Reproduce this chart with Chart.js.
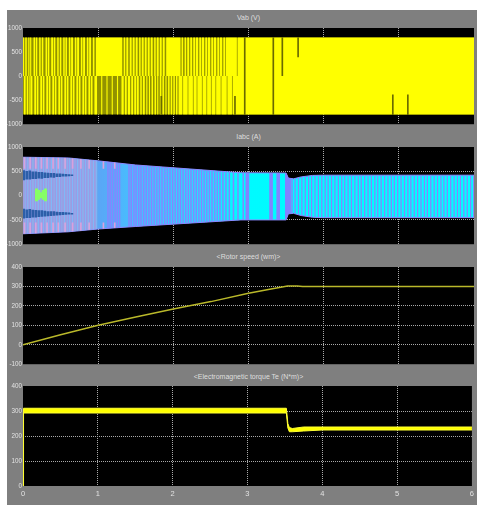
<!DOCTYPE html>
<html>
<head>
<meta charset="utf-8">
<script src="https://cdn.jsdelivr.net/npm/chart.js@4/dist/chart.umd.min.js"></script>
<style>
  html, body { margin: 0; padding: 0; background: #ffffff; }
  body { width: 477px; height: 505px; position: relative; overflow: hidden; }
  #scope { position: absolute; left: 7px; top: 10px; width: 470px; height: 495px; background: #7f7f7f; }
  .cv { position: absolute; left: 7px; }
  .ttl { position: absolute; left: 23px; width: 451px; height: 10px; line-height: 10px; text-align: center;
         color: #dedede; font-size: 7px; white-space: nowrap;
         font-family: 'Liberation Sans', Arial, sans-serif; }
</style>
</head>
<body>
<div id="scope"></div>
<div class="ttl" style="top:13px">Vab (V)</div>
<div class="ttl" style="top:132px">Iabc (A)</div>
<div class="ttl" style="top:252px">&lt;Rotor speed (wm)&gt;</div>
<div class="ttl" style="top:372px">&lt;Electromagnetic torque Te (N*m)&gt;</div>
<canvas class="cv" id="cVab" width="470" height="119" style="top:10px"></canvas>
<canvas class="cv" id="cIabc" width="470" height="120" style="top:129px"></canvas>
<canvas class="cv" id="cSpeed" width="470" height="120" style="top:249px"></canvas>
<canvas class="cv" id="cTorque" width="470" height="137" style="top:368px"></canvas>
<script>
// ---------- time axis ----------
const timeTicks = [0, 1, 2, 3, 4, 5, 6];

// ---------- Vab (V): PWM line voltage ----------
const vabTicks = [-1000, -500, 0, 500, 1000];
const vabLevel = 800;
// intervals (s) where the positive pulses sit at 0 V
const vabUpperZero = [
  [0.015,0.03],[0.05,0.07],[0.085,0.095],[0.11,0.14],[0.16,0.17],[0.19,0.215],[0.235,0.25],[0.27,0.30],
  [0.32,0.33],[0.35,0.375],[0.40,0.41],[0.43,0.455],[0.475,0.49],[0.51,0.535],[0.555,0.565],[0.585,0.61],
  [0.63,0.64],[0.665,0.69],[0.71,0.72],[0.745,0.77],[0.79,0.80],[0.825,0.85],[0.87,0.88],[0.905,0.93],[0.95,0.97],
  [1.32,1.34],[1.36,1.375],[1.40,1.42],[1.445,1.46],[1.485,1.50],[1.525,1.545],[1.565,1.58],[1.605,1.62],
  [1.645,1.66],[1.685,1.70],[1.725,1.745],[1.765,1.78],[1.805,1.82],[1.845,1.86],[1.885,1.905],
  [2.095,2.11],[2.13,2.15],[2.17,2.185],[2.21,2.225],[2.25,2.265],[2.29,2.30],[2.33,2.345],[2.37,2.38],
  [2.41,2.425],[2.45,2.46],[2.49,2.505],[2.53,2.54],[2.57,2.585],[2.61,2.62],[2.65,2.665],[2.69,2.70],
  [2.845,2.855]
];
// intervals (s) where the negative pulses sit at 0 V
const vabLowerZero = [
  [0.0,0.012],[0.035,0.05],[0.07,0.085],[0.10,0.105],[0.125,0.15],[0.175,0.185],[0.205,0.23],[0.255,0.265],
  [0.285,0.31],[0.335,0.345],[0.365,0.39],[0.415,0.425],[0.445,0.47],[0.495,0.505],[0.525,0.55],[0.575,0.585],
  [0.605,0.63],[0.655,0.665],[0.685,0.71],[0.735,0.745],[0.765,0.79],[0.815,0.825],[0.845,0.87],[0.895,0.905],[0.925,0.95],
  [0.985,1.04],[1.055,1.11],[1.125,1.18],[1.195,1.25],[1.265,1.31],
  [1.34,1.355],[1.38,1.395],[1.425,1.44],[1.465,1.48],[1.505,1.515],[1.54,1.56],[1.58,1.595],[1.62,1.64],
  [1.655,1.675],[1.69,1.71],[1.73,1.75],[1.77,1.785],[1.80,1.82],[1.84,1.855],[1.875,1.895],[1.91,1.93],
  [1.95,1.965],[1.985,2.00],[2.02,2.035],[2.055,2.07],
  [2.12,2.13],[2.19,2.20],[2.26,2.27],[2.31,2.32],[2.38,2.39],[2.44,2.45],[2.50,2.51],[2.56,2.57],
  [2.63,2.64],[2.71,2.72],[2.78,2.79]
];
// isolated notches: [time (s), low (V), high (V)]
const vabNotches = [
  [1.84,-800,-420],[2.82,-800,-420],[2.95,-800,800],[3.33,-800,800],[3.45,0,800],[3.66,400,800],
  [4.92,-800,-390],[5.12,-800,-390]
];

// ---------- Iabc (A): three-phase stator currents ----------
const iabcTicks = [-1000, -500, 0, 500, 1000];
const iabcTime  = [0, 0.6, 1.0, 1.5, 2.9, 3.5, 3.53, 3.6, 3.7, 3.85, 4.0, 6.0];
const iabcUpper = [790, 775, 715, 630, 470, 465, 360, 345, 385, 415, 420, 420];
const iabcLower = [-785, -745, -687, -635, -500, -500, -375, -365, -410, -445, -453, -453];
// times (s) of the violet phase crossings
const iabcVioletTimes = [
  0.012,0.046,0.083,0.114,0.152,0.183,0.221,0.256,0.288,0.327,0.358,0.397,0.429,0.466,0.502,0.533,
  0.572,0.604,0.641,0.676,0.708,0.747,0.779,0.817,0.848,0.886,0.918,0.957,
  1.13,1.16,1.19,1.225,1.255,1.285,1.41,1.44,1.475,1.505,1.54,1.57,1.605,1.64,1.675,1.71,1.745,
  1.78,1.815,1.85,1.885,1.92,1.955,1.99,2.025,2.06,2.095,2.13,2.165,2.2,2.235,2.27,2.305,2.34,
  2.375,2.41,2.445,2.48,2.515,2.55,2.585,2.62,2.66,2.70,2.745,2.80,2.86,2.93,
  3.58,3.62,3.665,3.71,3.755,3.80,3.84,3.885,3.93,3.975,4.02,4.06,4.105,4.15,4.195,4.24,4.28,
  4.325,4.37,4.415,4.46,4.50,4.545,4.59,4.635,4.68,4.72,4.765,4.81,4.855,4.90,4.94,4.985,5.03,
  5.075,5.12,5.16,5.205,5.25,5.295,5.34,5.38,5.425,5.47,5.515,5.56,5.60,5.645,5.69,5.735,5.78,
  5.82,5.865,5.91,5.955,5.995
];
// beat boundaries between the wide lobes
const iabcBeatTimes = [2.985, 3.30, 3.395, 3.51, 3.545];
// light-blue phase crossings in the start-up interval
const iabcBlueTimes = [
  0.028,0.064,0.098,0.133,0.168,0.203,0.238,0.272,0.307,0.342,0.377,0.412,0.447,0.484,
  0.518,0.553,0.588,0.622,0.658,0.692,0.727,0.762,0.797,0.832,0.867,0.902,0.937,0.972
];
// pink crests near the envelope during start-up
const iabcPinkTimes = [0.02,0.095,0.17,0.245,0.32,0.40,0.47,0.56,0.66,0.77,0.88,1.07,1.22];
// dark-blue ripple beads: [time (s), centre (A), half height (A)]
const iabcBeadsUpper = [
  [0.01,420,95],[0.05,420,80],[0.09,425,85],[0.13,420,70],[0.17,418,72],[0.21,420,60],[0.25,418,62],
  [0.29,420,50],[0.33,418,48],[0.37,420,40],[0.41,418,42],[0.45,420,30],[0.49,418,28],[0.53,420,22],
  [0.57,418,20],[0.61,420,15],[0.65,418,10]
];
const iabcBeadsLower = [
  [0.01,-370,95],[0.05,-372,82],[0.09,-368,85],[0.13,-370,72],[0.17,-372,70],[0.21,-370,62],[0.25,-368,60],
  [0.29,-370,52],[0.33,-372,46],[0.37,-370,42],[0.41,-368,40],[0.45,-370,32],[0.49,-372,26],[0.53,-370,24],
  [0.57,-368,18],[0.61,-370,14],[0.65,-372,10]
];
// green lobe around the start: [time (s), low (A), high (A)]
const iabcGreenLobe = [[0.18,-110,140],[0.21,-80,110],[0.24,-40,60],[0.27,-80,110],[0.30,-110,140]];

// ---------- Rotor speed (rad/s) ----------
const speedTicks = [-100, 0, 100, 200, 300, 400];
const speedTime  = [0, 0.5, 1.0, 1.5, 2.0, 2.5, 3.0, 3.3, 3.52, 3.65, 3.72, 6.0];
const speedValue = [0, 52, 100, 143, 184, 222, 265, 287, 302, 302, 300, 300];

// ---------- Electromagnetic torque (N*m) ----------
const torqueTicks = [0, 100, 200, 300, 400];
const torqueTime  = [0, 0.004, 0.01, 3.52, 3.54, 3.56, 3.6, 3.75, 4.0, 6.0];
const torqueHigh  = [0, 310, 311, 311, 250, 234, 230, 236, 236, 236];
const torqueLow   = [0, 292, 292, 292, 232, 217, 217, 220, 224, 224];

// ---------- shared styling ----------
const FONT = "'Liberation Sans', Arial, sans-serif";
const LABEL = '#e2e2e2';
const GRID = '#a9a9a9';

function xy(xs, ys) { return xs.map((x, i) => ({ x, y: ys[i] })); }

function pulseTrain(zeroIntervals, level) {
  const pts = [{ x: 0, y: level }];
  zeroIntervals.forEach(([a, b]) => { pts.push({ x: a, y: 0 }); pts.push({ x: b, y: level }); });
  pts.push({ x: 6, y: level });
  return pts;
}

function axes(yTicks, showX) {
  const yMin = yTicks[0], yMax = yTicks[yTicks.length - 1];
  const innerOnly = (lo, hi) => (c) => (c.tick && (c.tick.value === lo || c.tick.value === hi)) ? 'rgba(0,0,0,0)' : GRID;
  return {
    x: {
      type: 'linear', min: 0, max: 6, offset: false,
      afterBuildTicks: s => { s.ticks = timeTicks.map(v => ({ value: v })); },
      afterFit: s => { s.height = showX ? 19 : 0; },
      ticks: { display: showX, color: LABEL, padding: 3, maxRotation: 0, autoSkip: false,
               callback: v => String(v), font: { family: FONT, size: 7.5 } },
      grid: { color: innerOnly(0, 6), lineWidth: 1, drawTicks: false, offset: false },
      border: { display: false, dash: [1, 1] }
    },
    y: {
      type: 'linear', min: yMin, max: yMax,
      afterBuildTicks: s => { s.ticks = yTicks.map(v => ({ value: v })); },
      afterFit: s => { s.width = 16; },
      ticks: { color: LABEL, padding: 1, callback: v => String(v), font: { family: FONT, size: 6.3 } },
      grid: { color: innerOnly(yMin, yMax), lineWidth: 1, drawTicks: false },
      border: { display: false, dash: [1, 1] }
    }
  };
}

const plotBackground = {
  id: 'plotBackground',
  beforeDraw(chart) {
    const { ctx, chartArea: a } = chart;
    ctx.save();
    ctx.fillStyle = '#000000';
    ctx.fillRect(a.left, a.top, a.right - a.left, a.bottom - a.top);
    ctx.restore();
  }
};

function options(yTicks, showX) {
  return {
    responsive: false, animation: false, devicePixelRatio: 1,
    layout: { padding: { top: 18, right: 3, bottom: showX ? 0 : 2, left: 0 } },
    plugins: { legend: { display: false }, tooltip: { enabled: false }, title: { display: false } },
    elements: { point: { radius: 0, hoverRadius: 0 }, line: { tension: 0 } },
    scales: axes(yTicks, showX)
  };
}

const NONE = 'rgba(0,0,0,0)';

// ---------- Vab ----------
new Chart(document.getElementById('cVab'), {
  type: 'line',
  data: {
    datasets: [
      { data: [{ x: 0, y: vabLevel }, { x: 6, y: vabLevel }], fill: { value: -vabLevel },
        backgroundColor: '#929200', borderColor: NONE, borderWidth: 0, order: 9 },
      { data: pulseTrain(vabUpperZero, vabLevel), stepped: true, fill: 'origin',
        backgroundColor: '#ffff00', borderColor: NONE, borderWidth: 0, order: 8 },
      { data: pulseTrain(vabLowerZero, -vabLevel), stepped: true, fill: 'origin',
        backgroundColor: '#ffff00', borderColor: NONE, borderWidth: 0, order: 7 },
      { type: 'bar', data: vabNotches.map(([t, lo, hi]) => ({ x: t, y: [lo, hi] })),
        backgroundColor: '#6a6a00', barThickness: 1, grouped: false, order: 1 }
    ]
  },
  options: options(vabTicks, false),
  plugins: [plotBackground]
});

// ---------- Iabc ----------
const currentFillStops = [[0, '#acb0c0'], [0.95, '#a4b0d0'], [1.0, '#5aa6f6'], [1.5, '#46c0ff'],
                          [2.3, '#26e0ff'], [2.9, '#00faff'], [6, '#00ffff']];
function currentFill(c) {
  const chart = c.chart, a = chart.chartArea;
  if (!a) return '#00ffff';
  const x = chart.scales.x;
  const g = chart.ctx.createLinearGradient(x.getPixelForValue(0), 0, x.getPixelForValue(6), 0);
  currentFillStops.forEach(([t, col]) => g.addColorStop(t / 6, col));
  return g;
}

const envelopeClip = {
  id: 'envelopeClip',
  beforeDatasetDraw(chart, args) {
    const ds = chart.data.datasets[args.index];
    if (!ds.insideEnvelope) return;
    const top = chart.getDatasetMeta(0).data, bot = chart.getDatasetMeta(1).data;
    const ctx = chart.ctx;
    ctx.save();
    ctx.beginPath();
    top.forEach((p, i) => i ? ctx.lineTo(p.x, p.y) : ctx.moveTo(p.x, p.y));
    for (let i = bot.length - 1; i >= 0; i--) ctx.lineTo(bot[i].x, bot[i].y);
    ctx.closePath();
    ctx.clip();
  },
  afterDatasetDraw(chart, args) {
    if (chart.data.datasets[args.index].insideEnvelope) chart.ctx.restore();
  }
};

function stripes(times, lo, hi) { return times.map(t => ({ x: t, y: [lo, hi] })); }
const earlyViolet = iabcVioletTimes.filter(t => t < 1);
const midViolet = iabcVioletTimes.filter(t => t >= 1 && t < 3);
const lateViolet = iabcVioletTimes.filter(t => t >= 3);

new Chart(document.getElementById('cIabc'), {
  type: 'line',
  data: {
    datasets: [
      { data: xy(iabcTime, iabcUpper), fill: '+1', backgroundColor: currentFill,
        borderColor: '#8a8aff', borderWidth: 1, order: 10 },
      { data: xy(iabcTime, iabcLower), fill: false, borderColor: '#8a8aff', borderWidth: 1, order: 9 },
      { type: 'bar', insideEnvelope: true, data: stripes(iabcBlueTimes, -1000, 1000),
        backgroundColor: '#80b8f8', barThickness: 0.8, grouped: false, order: 8 },
      { type: 'bar', insideEnvelope: true, data: stripes(earlyViolet, -1000, 1000),
        backgroundColor: '#9a9ae6', barThickness: 0.8, grouped: false, order: 7 },
      { type: 'bar', insideEnvelope: true, data: stripes(midViolet, -1000, 1000),
        backgroundColor: '#8585ff', barThickness: 0.8, grouped: false, order: 7 },
      { type: 'bar', insideEnvelope: true, data: stripes(lateViolet, -1000, 1000),
        backgroundColor: '#8585ff', barThickness: 0.6, grouped: false, order: 7 },
      { type: 'bar', insideEnvelope: true, data: stripes(iabcBeatTimes, -1000, 1000),
        backgroundColor: '#8282ff', barThickness: 3, grouped: false, order: 6 },
      { type: 'bar', insideEnvelope: true, data: stripes(iabcPinkTimes, 560, 1000),
        backgroundColor: '#d9a2dc', barThickness: 1, grouped: false, order: 5 },
      { type: 'bar', insideEnvelope: true, data: stripes(iabcPinkTimes, -1000, -560),
        backgroundColor: '#d9a2dc', barThickness: 1, grouped: false, order: 5 },
      { type: 'bar', insideEnvelope: true,
        data: iabcBeadsUpper.concat(iabcBeadsLower).map(([t, c, h]) => ({ x: t, y: [c - h, c + h] })),
        backgroundColor: '#2c5ea8', barThickness: 2, grouped: false, order: 3 },
      { type: 'bar', insideEnvelope: true, data: iabcGreenLobe.map(([t, lo, hi]) => ({ x: t, y: [lo, hi] })),
        backgroundColor: '#86ff66', barThickness: 2.4, grouped: false, order: 2 }
    ]
  },
  options: options(iabcTicks, false),
  plugins: [plotBackground, envelopeClip]
});

// ---------- Rotor speed ----------
new Chart(document.getElementById('cSpeed'), {
  type: 'line',
  data: {
    datasets: [
      { data: xy(speedTime, speedValue), fill: false, borderColor: '#b9b82a', borderWidth: 1.5 }
    ]
  },
  options: options(speedTicks, false),
  plugins: [plotBackground]
});

// ---------- Electromagnetic torque ----------
new Chart(document.getElementById('cTorque'), {
  type: 'line',
  data: {
    datasets: [
      { data: xy(torqueTime, torqueHigh), fill: '+1', backgroundColor: '#ffff00',
        borderColor: '#ffff33', borderWidth: 1, order: 2 },
      { data: xy(torqueTime, torqueLow), fill: false, borderColor: '#ffff33', borderWidth: 1, order: 1 }
    ]
  },
  options: options(torqueTicks, true),
  plugins: [plotBackground]
});
</script>
</body>
</html>
